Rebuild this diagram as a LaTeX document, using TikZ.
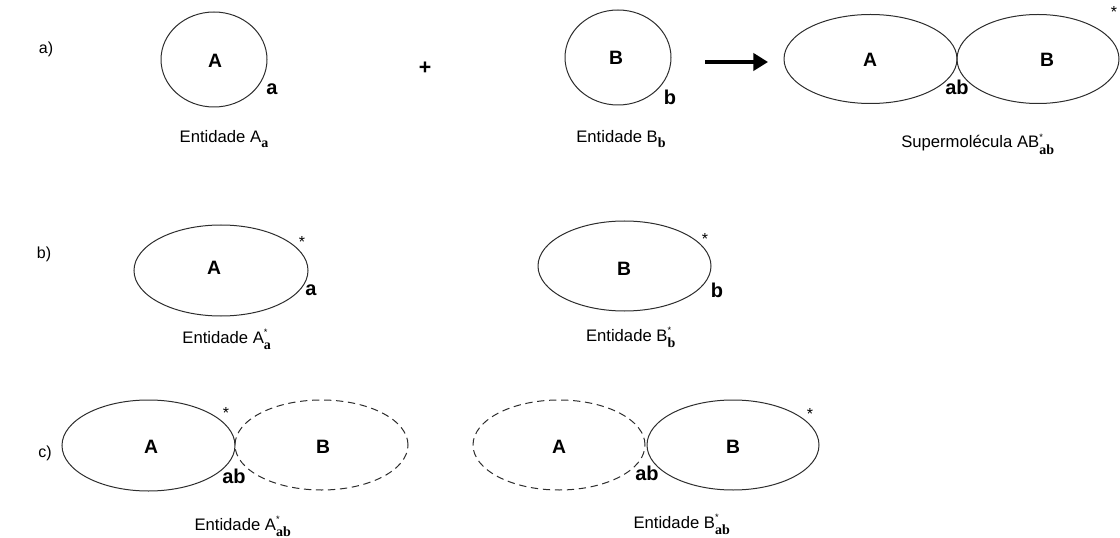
\documentclass[tikz,border=0pt]{standalone}
\usepackage{fontspec}
\setmainfont{Liberation Sans}
\newfontfamily\subfont{Liberation Serif}
\usetikzlibrary{shapes.geometric,arrows.meta}
\definecolor{linec}{RGB}{45,45,45}
\tikzset{
  ell/.style={draw=linec, line width=0.75pt, ellipse, inner sep=0pt},
  dell/.style={ell, dash pattern=on 5.5pt off 3.5pt},
  lbl/.style={font=\bfseries\fontsize{14.5}{16}\selectfont, inner sep=0pt},
  site/.style={font=\bfseries\fontsize{15}{16}\selectfont, inner sep=0pt},
  capt/.style={font=\fontsize{12.5}{14}\selectfont, anchor=base, inner sep=0pt},
  part/.style={font=\fontsize{12}{14}\selectfont, inner sep=0pt},
  star/.style={font=\fontsize{12}{14}\selectfont, inner sep=0pt},
}
\newcommand{\sbx}[1]{\raisebox{-3.6pt}{\subfont\bfseries\fontsize{10.5}{12}\selectfont #1}}
\newcommand{\ssx}[2]{\ensuremath{\mathop{}^{\raisebox{1.5pt}{\fontsize{7}{8}\selectfont *}}_{\raisebox{-2pt}{\subfont\bfseries\fontsize{10.5}{12}\selectfont #2}}}}
\begin{document}
\begin{tikzpicture}[x=0.75pt,y=-0.75pt]
\useasboundingbox (0,0) rectangle (1120,538);
% ---------- row a ----------
\node[part] (la) at (46,49) {a)};
\node[ell, minimum width={106*0.75pt}, minimum height={95*0.75pt}] (eAa) at (214,59.5) {};
\node[lbl] (tAa) at (215,61) {A};
\node[site] (sa1) at (272,89) {a};
\node[capt] (cAa) at (224,143) {Entidade A\sbx{a}};
\node[lbl, font=\bfseries\fontsize{16}{17}\selectfont] (plus) at (425,68) {+};
\node[ell, minimum width={106*0.75pt}, minimum height={95*0.75pt}] (eBb) at (618,57.5) {};
\node[lbl] (tBb) at (616,58) {B};
\node[site] (sb1) at (670,97) {b};
\node[capt] (cBb) at (621,143) {Entidade B\sbx{b}};
\coordinate (arS) at (705,62);
\coordinate (arE) at (768,62);
\draw[line width=2.3pt, -{Triangle[length=11pt,width=13pt]}] (arS) -- (arE);
\node[ell, minimum width={173*0.75pt}, minimum height={89*0.75pt}] (eSA) at (870.5,59) {};
\node[ell, minimum width={162*0.75pt}, minimum height={89*0.75pt}] (eSB) at (1038,59) {};
\node[lbl] (tSA) at (870,60) {A};
\node[lbl] (tSB) at (1047,60) {B};
\node[site] (sab1) at (957,87) {ab};
\node[star] (st1) at (1114,12) {*};
\node[capt] (cS) at (978,148) {Supermolécula AB\ssx{*}{ab}};
% ---------- row b ----------
\node[part] (lb) at (44,254) {b)};
\node[ell, minimum width={174*0.75pt}, minimum height={91*0.75pt}] (eA2) at (221,270.5) {};
\node[lbl] (tA2) at (214,268) {A};
\node[star] (st2) at (302,242) {*};
\node[site] (sa2) at (311,290) {a};
\node[capt] (cA2) at (227,343) {Entidade A\ssx{*}{a}};
\node[ell, minimum width={173*0.75pt}, minimum height={90*0.75pt}] (eB2) at (624.5,266) {};
\node[lbl] (tB2) at (624,269) {B};
\node[star] (st3) at (705,239) {*};
\node[site] (sb2) at (717,290) {b};
\node[capt] (cB2) at (631,341) {Entidade B\ssx{*}{b}};
% ---------- row c ----------
\node[part] (lc) at (45,453) {c)};
\node[ell, minimum width={173*0.75pt}, minimum height={91*0.75pt}] (eA3) at (148.5,445.5) {};
\node[dell, minimum width={173*0.75pt}, minimum height={90*0.75pt}] (eB3) at (321.5,445) {};
\node[lbl] (tA3) at (151,447) {A};
\node[lbl] (tB3) at (323,447) {B};
\node[star] (st4) at (226,413) {*};
\node[site] (sab3) at (234,476) {ab};
\node[capt] (cA3) at (243,530) {Entidade A\ssx{*}{ab}};
\node[dell, minimum width={172*0.75pt}, minimum height={90*0.75pt}] (eA4) at (559,445) {};
\node[ell, minimum width={172*0.75pt}, minimum height={90*0.75pt}] (eB4) at (733,445) {};
\node[lbl] (tA4) at (559,447) {A};
\node[lbl] (tB4) at (733,447) {B};
\node[star] (st5) at (810,414) {*};
\node[site] (sab4) at (647,473) {ab};
\node[capt] (cB4) at (682,528) {Entidade B\ssx{*}{ab}};
\end{tikzpicture}
\end{document}
